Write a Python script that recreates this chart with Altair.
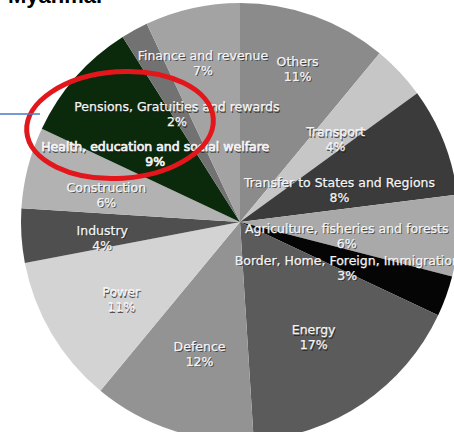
import altair as alt
import pandas as pd

categories = [
    "Others",
    "Transport",
    "Transfer to States and Regions",
    "Agriculture, fisheries and forests",
    "Border, Home, Foreign, Immigration",
    "Energy",
    "Defence",
    "Power",
    "Industry",
    "Construction",
    "Health, education and social welfare",
    "Pensions, Gratuities and rewards",
    "Finance and revenue",
]
shares = [11, 4, 8, 6, 3, 17, 12, 11, 4, 6, 9, 2, 7]
colors = [
    "#8b8b8b", "#c6c6c6", "#3b3b3b", "#a9a9a9", "#050505", "#5b5b5b",
    "#939393", "#d3d3d3", "#4f4f4f", "#b2b2b2", "#0b2a0b", "#727272", "#a3a3a3",
]

# table built from the arrays
cum = []
total = 0
for s in shares:
    total += s
    cum.append(total - s / 2)
df = pd.DataFrame({
    "category": categories,
    "share": shares,
    "order": list(range(len(categories))),
    "mid": cum,
    "label": [f"{c}\n{s}%" for c, s in zip(categories, shares)],
})

CX, CY, R = 240, 222, 219
TWO_PI = 6.283185307

base = alt.Chart(df)

pie = base.mark_arc(outerRadius=R, stroke=None).encode(
    theta=alt.Theta("share:Q", stack=True, scale=alt.Scale(domain=[0, 100], range=[0, TWO_PI])),
    order=alt.Order("order:Q"),
    color=alt.Color("category:N", scale=alt.Scale(domain=categories, range=colors), legend=None),
    x=alt.value(CX),
    y=alt.value(CY),
)


def labels(names, r, heavy=0.25):
    sel = base.transform_filter(alt.FieldOneOfPredicate(field="category", oneOf=names))
    enc = dict(
        theta=alt.Theta("mid:Q", stack=None, scale=alt.Scale(domain=[0, 100], range=[0, TWO_PI])),
        text=alt.Text("label:N"),
        x=alt.value(CX),
        y=alt.value(CY),
    )
    common = dict(radius=r, font="DejaVu Sans", fontSize=12.5, lineBreak="\n",
                  lineHeight=15, align="center", baseline="middle")
    shadow = sel.mark_text(color="#1a1a1a", opacity=0.7, dx=1, dy=1.3, **common).encode(**enc)
    txt = sel.mark_text(color="#f4f4f4", stroke="#f4f4f4", strokeWidth=heavy, **common).encode(**enc)
    return [shadow, txt]


layers = [pie]
layers += labels(["Finance and revenue", "Others"], 170)
layers += labels(["Power", "Industry", "Construction"], 138)
layers += labels(["Pensions, Gratuities and rewards", "Transport", "Energy", "Defence"], 131)
layers += labels(["Transfer to States and Regions", "Agriculture, fisheries and forests"], 107)
layers += labels(["Health, education and social welfare"], 113, 0.7)
layers += labels(["Border, Home, Foreign, Immigration"], 114)

one = pd.DataFrame({"a": [0]})
ellipse = alt.Chart(one).mark_point(
    shape="M -1 0 A 1 0.57 0 1 1 1 0 A 1 0.57 0 1 1 -1 0 Z",
    size=187 * 187, filled=False, color="#e3161c", strokeWidth=5, angle=356, opacity=1,
).encode(x=alt.value(120), y=alt.value(125))

blue = alt.Chart(one).mark_rule(color="#4a78c2", strokeWidth=1.5).encode(
    x=alt.value(0), x2=alt.value(40), y=alt.value(114)
)

title = alt.Chart(one).mark_text(
    text="Myanmar", font="Liberation Sans", fontSize=22, fontWeight="bold",
    color="#000000", align="left", baseline="alphabetic",
).encode(x=alt.value(8), y=alt.value(3))

chart = alt.layer(*layers, ellipse, blue, title).properties(
    width=454, height=432, autosize=alt.AutoSizeParams(type="none"), padding=0,
    background="white",
).configure_view(stroke=None)

chart.save("out.html", embed_options={"renderer": "svg", "actions": False})
